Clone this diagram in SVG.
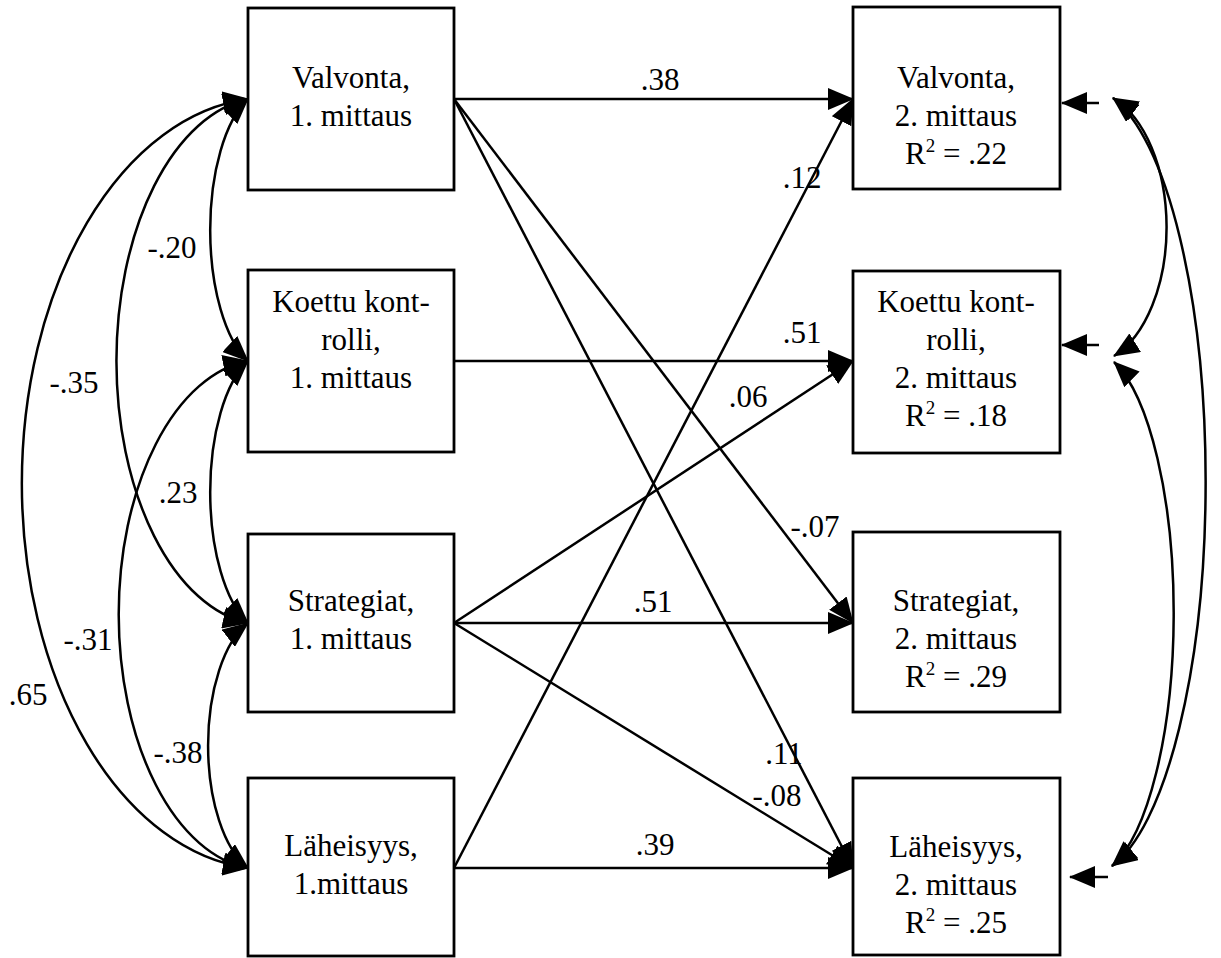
<svg xmlns="http://www.w3.org/2000/svg" width="1221" height="958" viewBox="0 0 1221 958">
<style>
text{font-family:"Liberation Serif","Times New Roman",serif;font-size:31px;fill:#000}
.c{text-anchor:middle}
.box{fill:#fff;stroke:#000;stroke-width:2.8}
.ln{fill:none;stroke:#000;stroke-width:2.5}
.cv{fill:none;stroke:#000;stroke-width:2.5;marker-start:url(#ah2);marker-end:url(#ah2)}
.ar{marker-end:url(#ah)}
</style>
<defs>
<marker id="ah" viewBox="0 0 26 22" refX="25" refY="11" markerWidth="26" markerHeight="22" markerUnits="userSpaceOnUse" orient="auto"><path d="M0,0 L26,11 L0,22 z" fill="#000"/></marker>
<marker id="ah2" viewBox="0 0 26 22" refX="25" refY="11" markerWidth="26" markerHeight="22" markerUnits="userSpaceOnUse" orient="auto-start-reverse"><path d="M0,0 L26,11 L0,22 z" fill="#000"/></marker>
</defs>
<rect width="1221" height="958" fill="#fff"/>
<g id="L1"><rect class="box" x="248" y="8" width="206" height="182"/><text class="c" x="351" y="88">Valvonta,</text><text class="c" x="351" y="126">1. mittaus</text></g>
<g id="L2"><rect class="box" x="248" y="270" width="206" height="182"/><text class="c" x="351" y="312">Koettu kont-</text><text class="c" x="351" y="350">rolli,</text><text class="c" x="351" y="388">1. mittaus</text></g>
<g id="L3"><rect class="box" x="248" y="534" width="206" height="178"/><text class="c" x="351" y="611">Strategiat,</text><text class="c" x="351" y="649">1. mittaus</text></g>
<g id="L4"><rect class="box" x="248" y="778" width="206" height="178"/><text class="c" x="351" y="856">Läheisyys,</text><text class="c" x="351" y="894">1.mittaus</text></g>
<g id="R1"><rect class="box" x="853" y="7" width="207" height="182"/><text class="c" x="956" y="88">Valvonta,</text><text class="c" x="956" y="126">2. mittaus</text><text class="c" x="956" y="164">R<tspan dy="-12" font-size="19">2</tspan><tspan dy="12"> = .22</tspan></text></g>
<g id="R2"><rect class="box" x="853" y="271" width="207" height="182"/><text class="c" x="956" y="312">Koettu kont-</text><text class="c" x="956" y="350">rolli,</text><text class="c" x="956" y="388">2. mittaus</text><text class="c" x="956" y="426">R<tspan dy="-12" font-size="19">2</tspan><tspan dy="12"> = .18</tspan></text></g>
<g id="R3"><rect class="box" x="853" y="532" width="207" height="180"/><text class="c" x="956" y="611">Strategiat,</text><text class="c" x="956" y="649">2. mittaus</text><text class="c" x="956" y="687">R<tspan dy="-12" font-size="19">2</tspan><tspan dy="12"> = .29</tspan></text></g>
<g id="R4"><rect class="box" x="853" y="778" width="207" height="177"/><text class="c" x="956" y="857">Läheisyys,</text><text class="c" x="956" y="895">2. mittaus</text><text class="c" x="956" y="933">R<tspan dy="-12" font-size="19">2</tspan><tspan dy="12"> = .25</tspan></text></g>
<g id="connectors">
<path class="ln ar" d="M454,99 L853,99"/>
<path class="ln ar" d="M454,361 L853,361"/>
<path class="ln ar" d="M454,623 L853,623"/>
<path class="ln ar" d="M454,868 L853,868"/>
<path class="ln ar" d="M454,99 L853,623"/>
<path class="ln ar" d="M454,99 L853,868"/>
<path class="ln ar" d="M454,623 L853,361"/>
<path class="ln ar" d="M454,623 L853,868"/>
<path class="ln ar" d="M454,868 L853,99"/>
<path class="ln ar" d="M1099,103 L1062,103"/>
<path class="ln ar" d="M1099,345 L1062,345"/>
<path class="ln ar" d="M1108,877 L1070,877"/>
<path class="cv" d="M248,99 A60,141 0 0 0 248,361"/>
<path class="cv" d="M248,99 A150,264 0 0 0 248,623"/>
<path class="cv" d="M248,99 A248,386 0 0 0 248,868"/>
<path class="cv" d="M248,361 A60,141 0 0 0 248,623"/>
<path class="cv" d="M248,361 A145,255 0 0 0 248,868"/>
<path class="cv" d="M248,623 A60,130 0 0 0 248,868"/>
<path class="cv" d="M1113,98 A80,137 0 0 1 1114,356"/>
<path class="cv" d="M1113,98 A120,394 0 0 1 1112,866"/>
<path class="cv" d="M1114,362 A85,263 0 0 1 1112,866"/>
</g>
<g id="labels">
<text class="c" x="660" y="90">.38</text>
<text class="c" x="802" y="188">.12</text>
<text class="c" x="802" y="343">.51</text>
<text class="c" x="748" y="407">.06</text>
<text class="c" x="815" y="537">-.07</text>
<text class="c" x="653" y="612">.51</text>
<text class="c" x="784" y="764">.11</text>
<text class="c" x="777" y="806">-.08</text>
<text class="c" x="655" y="855">.39</text>
<text class="c" x="172" y="258">-.20</text>
<text class="c" x="74" y="393">-.35</text>
<text class="c" x="178" y="503">.23</text>
<text class="c" x="88" y="650">-.31</text>
<text class="c" x="28" y="705">.65</text>
<text class="c" x="178" y="763">-.38</text>
</g>
</svg>
